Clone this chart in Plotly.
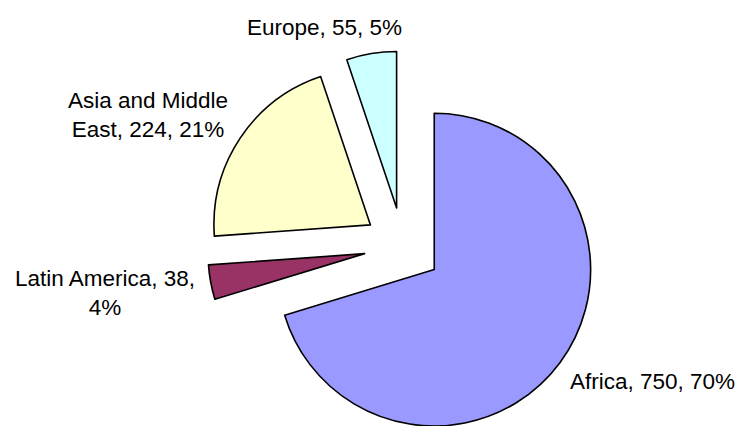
import math
import textwrap
import plotly.graph_objects as go

# ---- data ----
regions = ["Africa", "Latin America", "Asia and Middle East", "Europe"]
values = [750, 38, 224, 55]
colors = ["#9999FF", "#993366", "#FFFFCC", "#CCFFFF"]

# ---- layout constants ----
W, H = 744, 426
CX, CY = 402.9, 246.5      # common pie centre (px)
R = 156.5                  # radius (px)
EXPLODE = 39.0             # explode distance (px)
label_pos = [(652, 381.5), (105, 293), (147.5, 115), (324.7, 27)]
FONT = dict(family="Liberation Sans, Arial, sans-serif", size=22.5, color="#000000")

total = sum(values)
fig = go.Figure()
annotations = []
cum = 0.0
for k, (name, v) in enumerate(zip(regions, values)):
    frac = v / total
    mid = (cum + frac / 2) * 2 * math.pi
    cum += frac
    vx = CX + EXPLODE * math.sin(mid)
    vy = CY - EXPLODE * math.cos(mid)
    x0, x1 = (vx - R) / W, (vx + R) / W
    y0, y1 = 1 - (vy + R) / H, 1 - (vy - R) / H
    y0 = max(0.0, y0)
    y1 = min(1.0, y1)
    fig.add_trace(go.Pie(
        labels=regions,
        values=values,
        sort=False,
        direction="clockwise",
        rotation=0,
        textinfo="none",
        hoverinfo="skip",
        showlegend=False,
        domain=dict(x=[x0, x1], y=[y0, y1]),
        marker=dict(
            colors=[c if i == k else "rgba(0,0,0,0)" for i, c in enumerate(colors)],
            line=dict(color="#000000", width=[1.6 if i == k else 0 for i in range(len(values))]),
        ),
    ))
    pct = round(frac * 100)
    text = "<br>".join(textwrap.wrap(f"{name}, {v}, {pct}%", width=18))
    lx, ly = label_pos[k]
    annotations.append(dict(
        x=lx / W, y=1 - ly / H, xref="paper", yref="paper",
        text=text, showarrow=False, align="center",
        xanchor="center", yanchor="middle", font=FONT,
    ))

fig.update_layout(
    width=W, height=H,
    margin=dict(l=0, r=0, t=0, b=0),
    paper_bgcolor="#FFFFFF",
    plot_bgcolor="#FFFFFF",
    annotations=annotations,
)
fig.write_html(
    "out.html",
    config={"displayModeBar": False},
    post_script="document.body.style.margin='0';document.body.style.overflow='hidden';",
)
